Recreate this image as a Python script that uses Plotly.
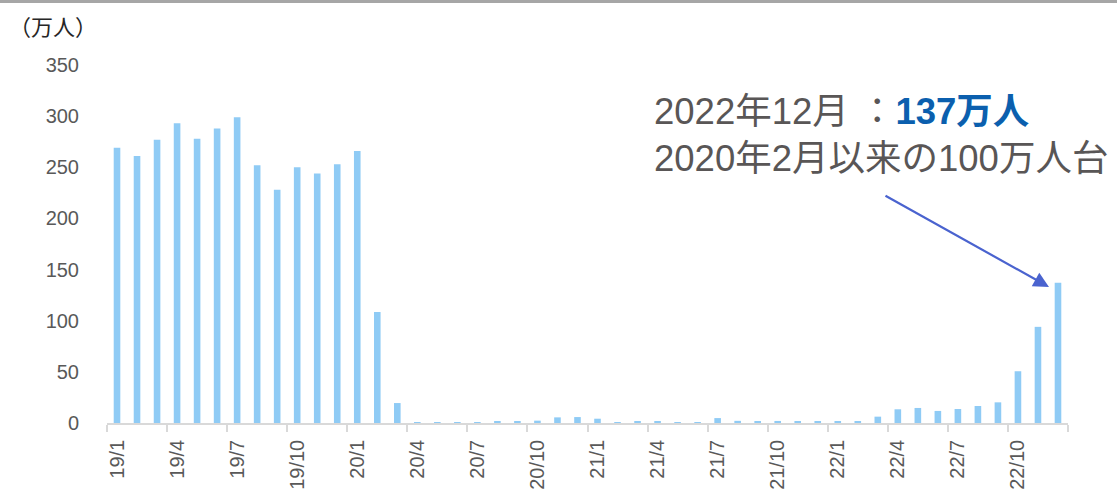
import plotly.graph_objects as go

months = [f"{y}/{m}" for y in (19, 20, 21, 22) for m in range(1, 13)]
values = [
    269, 261, 277, 293, 278, 288, 299, 252, 228, 250, 244, 253,
    266, 108.5, 19.5, 0.4, 0.3, 0.5, 0.7, 1.0, 1.3, 2.3, 5.5, 5.8,
    4.2, 0.3, 1.3, 1.0, 0.5, 0.8, 4.8, 2.1, 1.0, 2.0, 1.7, 1.0,
    1.3, 1.2, 6.2, 13.4, 14.7, 11.8, 13.7, 16.6, 20.2, 50.6, 94.0, 137.0,
]
label_months = months[::3]
yticks = [0, 50, 100, 150, 200, 250, 300, 350]

idx = list(range(len(months)))
label_idx = idx[::3]

fig = go.Figure()
fig.add_trace(go.Bar(
    x=idx, y=values, width=0.33,
    marker=dict(color="#8FCBF5", line=dict(width=0)),
    hovertext=months, hoverinfo="text+y",
))

tick_font = dict(family="Liberation Sans, Arial, sans-serif", size=20, color="#595959")

fig.update_layout(
    width=1117, height=495,
    margin=dict(l=107, r=49, t=65, b=72),
    paper_bgcolor="white", plot_bgcolor="white",
    showlegend=False,
    xaxis=dict(
        range=[-0.5, len(months) - 0.5],
        tickmode="array", tickvals=label_idx, ticktext=label_months,
        tickangle=-90, ticks="outside", ticklen=7, tickcolor="rgba(0,0,0,0)",
        tickfont=tick_font, automargin=False,
        showline=True, linecolor="#D9D9D9", linewidth=1.5,
        showgrid=False, zeroline=False,
        minor=dict(tickmode="linear", tick0=-0.5, dtick=3, ticks="outside",
                   ticklen=7, tickcolor="#D9D9D9", tickwidth=1.5, showgrid=False),
    ),
    yaxis=dict(
        range=[0, 350], tickmode="array", tickvals=yticks, automargin=False,
        tickfont=tick_font, showgrid=False, zeroline=False, showline=False,
        ticks="", ticklabelstandoff=27,
    ),
    font=dict(family="Noto Sans CJK JP, sans-serif"),
)

# top gray rule
fig.add_shape(type="rect", xref="paper", yref="paper",
              x0=-107/961, x1=1 + 49/961, y0=1 + 62/358, y1=1 + 66/358,
              line=dict(width=0), fillcolor="#A6A6A6", layer="above")

# unit label
fig.add_annotation(text="（万人）", xref="paper", yref="paper",
                   x=-100/961, y=1 + 40/358, xanchor="left", yanchor="middle",
                   showarrow=False,
                   font=dict(family="Noto Sans CJK JP", size=22, color="#262626"))

# callout text
fig.add_annotation(
    text=("2022年12月 ：<b><span style='color:#0B5FAE'>137万人</span></b><br>"
          "2020年2月以来の100万人台"),
    xref="paper", yref="paper", x=(652 - 107) / 961, y=(423 - 89) / 358,
    xanchor="left", yanchor="top", align="left", showarrow=False,
    font=dict(family="Liberation Sans, Noto Sans CJK JP", size=36.5, color="#595656"),
)

# arrow
fig.add_annotation(
    x=46.55, y=133, xref="x", yref="y",
    ax=-165, ay=-92, axref="pixel", ayref="pixel",
    text="", showarrow=True, arrowhead=2, arrowsize=1.4, arrowwidth=2.2,
    arrowcolor="#4A63CF",
)

fig.write_html("out.html", config={"displayModeBar": False},
               post_script="document.body.style.margin='0';")
